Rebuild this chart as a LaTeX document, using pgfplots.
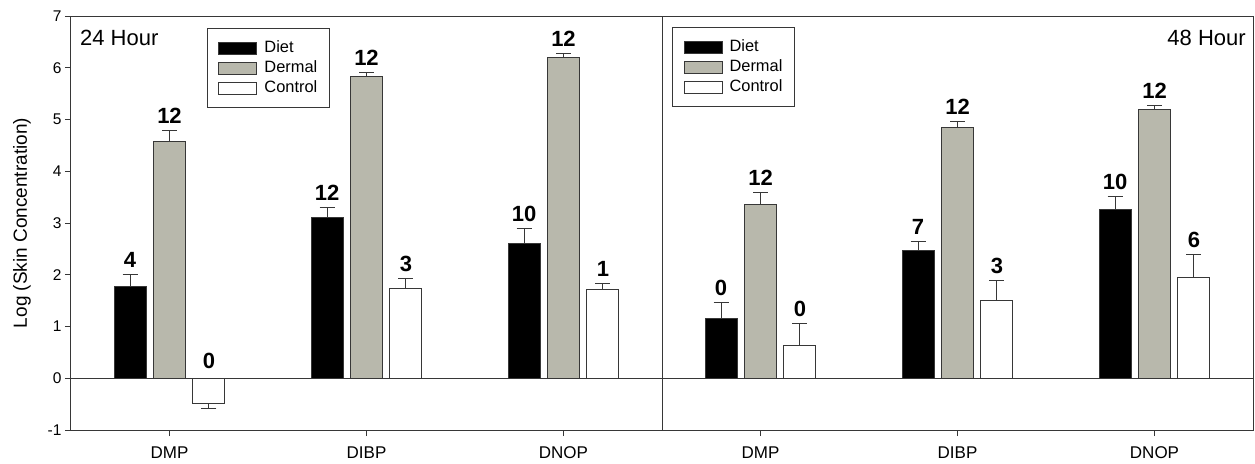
\documentclass[border=0pt]{standalone}
\usepackage{fontspec}
\setmainfont{Liberation Sans}
\usepackage{pgfplots}
\pgfplotsset{compat=1.18}
\definecolor{ax}{RGB}{55,55,55}
\definecolor{dermal}{RGB}{184,184,172}
\pgfplotsset{
  panel/.style={
    width=591pt, height=414pt, scale only axis,
    xmin=-0.5, xmax=2.5, ymin=-1, ymax=7,
    xtick={0,1,2}, xticklabels={DMP,DIBP,DNOP},
    xtick pos=left, ytick pos=left,
    tick align=outside, major tick length=6pt,
    every tick/.style={ax, line width=1pt},
    axis line style={ax, line width=1pt},
    yticklabel style={font=\fontsize{15.5}{19}\selectfont},
    xticklabel style={font=\fontsize{17}{20}\selectfont, yshift=-7pt},
    legend cell align=left,
    legend style={draw=ax, line width=1pt, font=\fontsize{16.4}{19}\selectfont,
      inner xsep=11pt, inner ysep=11pt,
      nodes={inner sep=1pt, text height=12pt, text depth=3pt},
      row sep=3pt,
      /tikz/every odd column/.append style={column sep=6pt}},
  },
  mybar/.style={ybar, bar width=32pt, bar shift=0pt, draw=ax, line width=1pt,
    legend image code/.code={\draw[##1] (0pt,-6pt) rectangle (38pt,6pt);},
    error bars/y dir=plus, error bars/y explicit,
    error bars/error bar style={line width=1pt, color=ax},
    error bars/error mark options={rotate=90, mark size=7.5pt, line width=1pt, color=ax}},
  lab/.style={forget plot, draw=none, mark=none, nodes near coords,
    point meta=explicit symbolic,
    nodes near coords style={anchor=base, yshift=7pt, inner sep=0pt,
      font=\fontsize{22}{26}\selectfont\bfseries, text=black}},
  zero/.style={forget plot, ax, line width=1pt, mark=none},
}
\begin{document}
\begin{tikzpicture}
\path[use as bounding box] (-71pt,-33pt) rectangle (1184pt,430pt);
% ---------------- 24 Hour ----------------
\begin{axis}[panel, at={(0pt,0pt)}, anchor=south west,
  ytick={-1,0,1,2,3,4,5,6,7}, yticklabels={-1,0,1,2,3,4,5,6,7},
  ylabel={Log (Skin Concentration)},
  ylabel style={font=\fontsize{19}{23}\selectfont, at={(axis description cs:-0.083,0.5)}, anchor=center},
  legend style={at={(0.230,0.971)}, anchor=north west}]
\addplot[zero] coordinates {(-0.5,0) (2.5,0)};
\addplot[mybar, fill=black] coordinates {
  (-0.2,1.78) +- (0,0.23)
  (0.8,3.11) +- (0,0.18)
  (1.8,2.60) +- (0,0.29)};
\addlegendentry{Diet}
\addplot[mybar, fill=dermal] coordinates {
  (0,4.58) +- (0,0.20)
  (1,5.84) +- (0,0.07)
  (2,6.20) +- (0,0.08)};
\addlegendentry{Dermal}
\addplot[mybar, fill=white, error bars/y dir=both] coordinates {
  (0.2,-0.49) += (0,0) -= (0,0.10)
  (1.2,1.73) += (0,0.19) -= (0,0)
  (2.2,1.71) += (0,0.13) -= (0,0)};
\addlegendentry{Control}
\addplot[lab] table[meta=n] {
x y n
-0.2 2.01 4
0 4.78 12
0.2 0.06 0
0.8 3.29 12
1 5.91 12
1.2 1.92 3
1.8 2.89 10
2 6.28 12
2.2 1.84 1
};
\node[anchor=west, inner sep=0pt, font=\fontsize{22}{26}\selectfont] at (rel axis cs:0.0152,0.947) {24 Hour};
\end{axis}
% ---------------- 48 Hour ----------------
\begin{axis}[panel, at={(591pt,0pt)}, anchor=south west,
  ytick=\empty,
  legend style={at={(0.017,0.973)}, anchor=north west}]
\addplot[zero] coordinates {(-0.5,0) (2.5,0)};
\addplot[mybar, fill=black] coordinates {
  (-0.2,1.16) +- (0,0.31)
  (0.8,2.47) +- (0,0.18)
  (1.8,3.27) +- (0,0.25)};
\addlegendentry{Diet}
\addplot[mybar, fill=dermal] coordinates {
  (0,3.36) +- (0,0.23)
  (1,4.84) +- (0,0.13)
  (2,5.20) +- (0,0.07)};
\addlegendentry{Dermal}
\addplot[mybar, fill=white] coordinates {
  (0.2,0.64) +- (0,0.41)
  (1.2,1.51) +- (0,0.37)
  (2.2,1.94) +- (0,0.46)};
\addlegendentry{Control}
\addplot[lab] table[meta=n] {
x y n
-0.2 1.47 0
0 3.59 12
0.2 1.05 0
0.8 2.65 7
1 4.97 12
1.2 1.88 3
1.8 3.52 10
2 5.27 12
2.2 2.40 6
};
\node[anchor=east, inner sep=0pt, font=\fontsize{22}{26}\selectfont] at (rel axis cs:0.988,0.947) {48 Hour};
\end{axis}
\end{tikzpicture}
\end{document}
